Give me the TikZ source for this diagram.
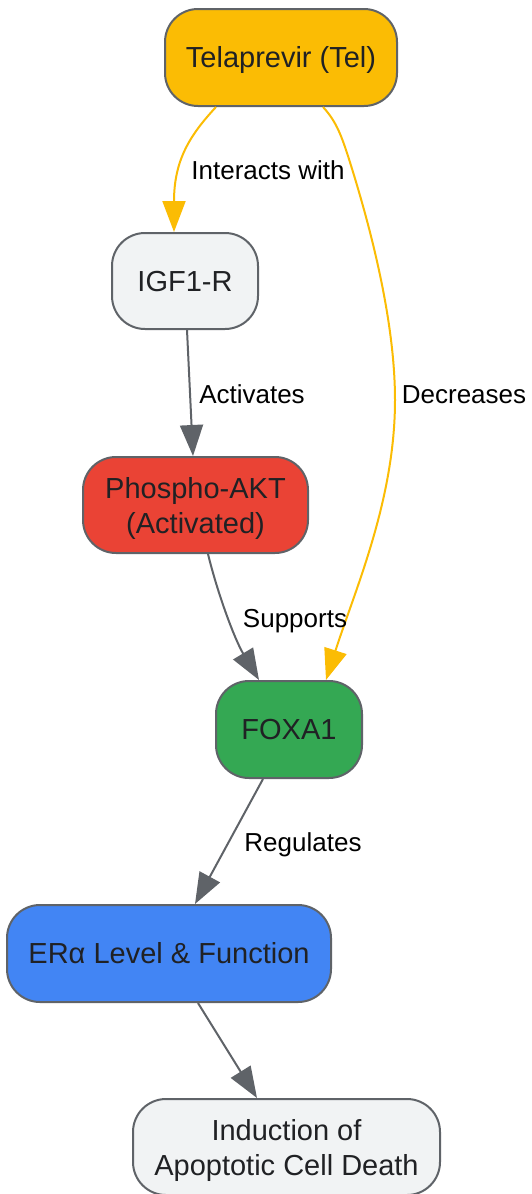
\documentclass[tikz,border=0pt]{standalone}
\usepackage{fontspec}
\setmainfont{Liberation Sans}
\usetikzlibrary{arrows.meta}
\definecolor{cOrange}{HTML}{FBBC04}
\definecolor{cGrey}{HTML}{5F6368}
\definecolor{cLight}{HTML}{F1F3F4}
\definecolor{cRed}{HTML}{EA4335}
\definecolor{cGreen}{HTML}{34A853}
\definecolor{cBlue}{HTML}{4285F4}
\definecolor{cText}{HTML}{202124}
\tikzset{
  box/.style={draw=cGrey, line width=2pt, rounded corners=33pt, inner sep=0pt,
    align=center, text=cText, font=\fontsize{29}{35.5}\selectfont},
  one/.style={text height=20.8pt, text depth=0pt},
  lbl/.style={inner sep=0pt, text=black, font=\fontsize{26}{30}\selectfont,
    text height=18.6pt, text depth=0pt},
  edge/.style={line width=2pt, draw=cGrey, -{Triangle[length=31pt,width=23pt]}},
  oedge/.style={line width=2pt, draw=cOrange, -{Triangle[length=31pt,width=23pt]}},
}
\begin{document}
\begin{tikzpicture}[x=1pt,y=-1pt]
\useasboundingbox (0,0) rectangle (532,1194);
\node[box,one,fill=cOrange,minimum width=232pt,minimum height=97pt] (tel) at (281,57.5) {Telaprevir (Tel)};
\node[box,one,fill=cLight,minimum width=146pt,minimum height=96pt] (igf) at (185,281) {IGF1-R};
\node[box,fill=cRed,minimum width=225pt,minimum height=96pt] (akt) at (195.5,505) {\rule{0pt}{28pt}Phospho-AKT\\(Activated)};
\node[box,one,fill=cGreen,minimum width=146pt,minimum height=97pt] (foxa) at (289,729.5) {FOXA1};
\node[box,one,fill=cBlue,minimum width=324pt,minimum height=97pt] (era) at (169,953.5) {ERα Level \& Function};
\node[box,fill=cLight,minimum width=307pt,minimum height=96pt] (ind) at (286.5,1147) {\rule{0pt}{28pt}Induction of\\Apoptotic Cell Death};

\draw[oedge] ([xshift=-65pt]tel.south) .. controls (190,135) and (174,160) .. ([xshift=-11pt]igf.north);
\draw[oedge] ([xshift=42pt]tel.south) .. controls (337,122) and (342,138) .. (348,156)
  .. controls (370,225) and (395,320) .. (395,400)
  .. controls (395,500) and (355,590) .. ([xshift=37pt]foxa.north);
\draw[edge] ([xshift=2pt]igf.south) -- ([xshift=-2.5pt]akt.north);
\draw[edge] ([xshift=12.5pt]akt.south) .. controls (218,595) and (235,640) .. ([xshift=-30pt]foxa.north);
\draw[edge] ([xshift=-26pt]foxa.south) -- ([xshift=26pt]era.north);
\draw[edge] ([xshift=29pt]era.south) -- ([xshift=-29.5pt]ind.north);

\node[lbl] (l1) at (268,170) {Interacts with};
\node[lbl] (l2) at (252,394) {Activates};
\node[lbl] (l3) at (464,394) {Decreases};
\node[lbl] (l4) at (295,618) {Supports};
\node[lbl] (l5) at (303,842) {Regulates};
\end{tikzpicture}
\end{document}
